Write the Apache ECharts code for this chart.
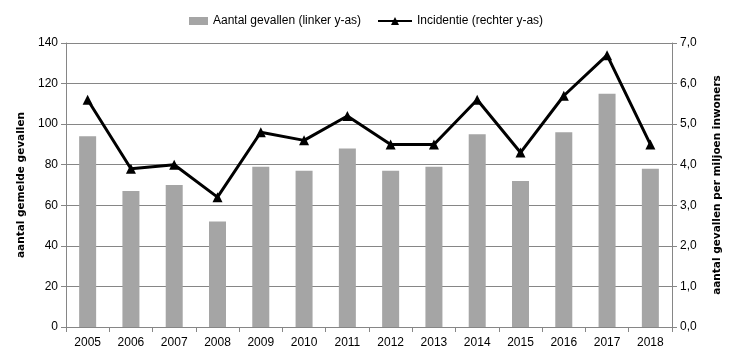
<!DOCTYPE html>
<html><head><meta charset="utf-8">
<script src="https://cdn.jsdelivr.net/npm/echarts@6/dist/echarts.min.js"></script>
<style>html,body{margin:0;padding:0;background:#fff}#c{width:737px;height:361px}</style>
</head><body><div id="c"></div>
<script>
const years = ['2005','2006','2007','2008','2009','2010','2011','2012','2013','2014','2015','2016','2017','2018'];
const cases = [94, 67, 70, 52, 79, 77, 88, 77, 79, 95, 72, 96, 115, 78];
const incidence = [5.6, 3.9, 4.0, 3.2, 4.8, 4.6, 5.2, 4.5, 4.5, 5.6, 4.3, 5.7, 6.7, 4.5];
const barName = 'Aantal gevallen (linker y-as)';
const lineName = 'Incidentie (rechter y-as)';
const leftName = 'aantal gemelde gevallen';
const rightName = 'aantal gevallen per miljoen inwoners';

const font = 'Liberation Sans';
const nameFont = 'DejaVu Sans';
const chart = echarts.init(document.getElementById('c'));
chart.setOption({
  animation: false,
  textStyle: {fontFamily: font},
  legend: [
    {data: [barName], left: 184, top: 10, itemWidth: 19, itemHeight: 8, itemGap: 4,
     icon: 'rect', textStyle: {fontSize: 12, color: '#000', fontFamily: font}},
    {data: [lineName], left: 372, top: 10, itemWidth: 34, itemHeight: 10, itemGap: 4,
     textStyle: {fontSize: 12, color: '#000', fontFamily: font}}
  ],
  grid: {left: 66, right: 65, top: 43, bottom: 34},
  xAxis: {
    type: 'category', data: years,
    axisLine: {lineStyle: {color: '#868686'}},
    axisTick: {show: true, alignWithLabel: false, length: 5, lineStyle: {color: '#868686'}},
    axisLabel: {color: '#000', fontSize: 12, margin: 10}
  },
  yAxis: [
    {type: 'value', min: 0, max: 140, interval: 20, position: 'left',
     name: leftName, nameLocation: 'middle', nameGap: 30, nameRotate: 90,
     nameTextStyle: {fontWeight: 'bold', fontSize: 10.5, color: '#000', fontFamily: nameFont},
     axisLine: {show: true, lineStyle: {color: '#868686'}},
     axisTick: {show: true, length: 5, lineStyle: {color: '#868686'}},
     axisLabel: {color: '#000', fontSize: 12, margin: 8},
     splitLine: {lineStyle: {color: '#868686'}}},
    {type: 'value', min: 0, max: 7, interval: 1, position: 'right',
     name: rightName, nameLocation: 'middle', nameGap: 40, nameRotate: 90,
     nameTextStyle: {fontWeight: 'bold', fontSize: 10.5, color: '#000', fontFamily: nameFont},
     axisLine: {show: true, lineStyle: {color: '#868686'}},
     axisTick: {show: true, length: 5, lineStyle: {color: '#868686'}},
     axisLabel: {color: '#000', fontSize: 12, margin: 8,
       formatter: v => v.toFixed(1).replace('.', ',')},
     splitLine: {show: false}}
  ],
  series: [
    {name: barName, type: 'bar', data: cases, yAxisIndex: 0, barWidth: 17,
     itemStyle: {color: '#a5a5a5'}},
    {name: lineName, type: 'line', data: incidence, yAxisIndex: 1,
     symbol: 'triangle', symbolSize: 10,
     lineStyle: {color: '#000', width: 3}, itemStyle: {color: '#000'}}
  ]
});
</script></body></html>
